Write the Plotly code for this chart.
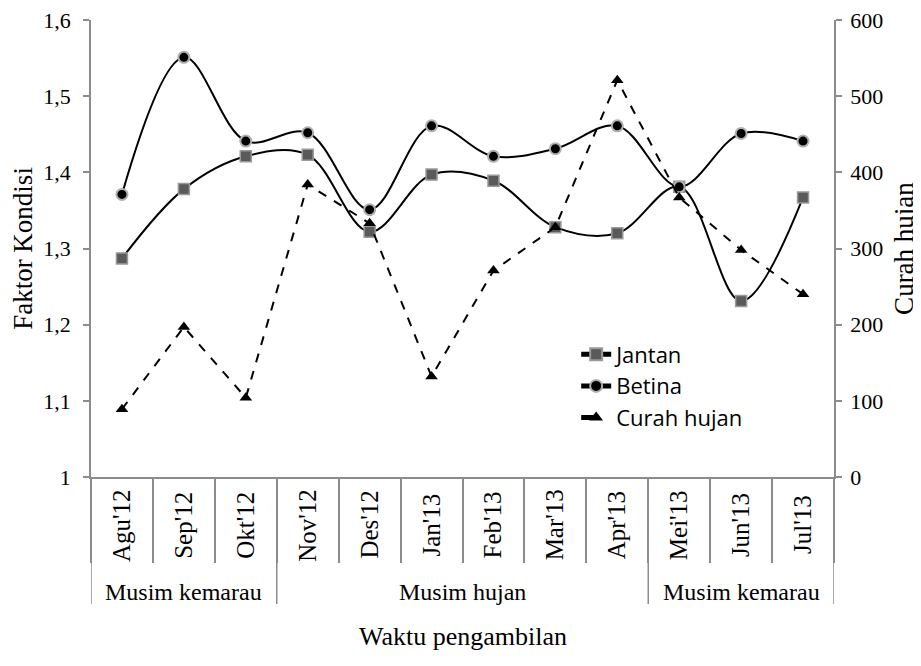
import plotly.graph_objects as go

months = ["Agu'12", "Sep'12", "Okt'12", "Nov'12", "Des'12", "Jan'13",
          "Feb'13", "Mar'13", "Apr'13", "Mei'13", "Jun'13", "Jul'13"]
jantan = [1.287, 1.378, 1.421, 1.423, 1.322, 1.397, 1.389, 1.328, 1.320, 1.381, 1.231, 1.367]
betina = [1.371, 1.551, 1.441, 1.452, 1.351, 1.461, 1.421, 1.431, 1.461, 1.381, 1.451, 1.441]
hujan = [89, 197, 104, 384, 333, 132, 271, 328, 521, 367, 298, 240]
seasons = ["Musim kemarau", "Musim hujan", "Musim kemarau"]
season_spans = [3, 6, 3]

SERIF = "Liberation Serif, Times New Roman, serif"
GRAY = "#8c8c8c"

fig = go.Figure()
fig.add_trace(go.Scatter(
    x=months, y=jantan, name="Jantan", mode="lines+markers",
    line=dict(color="black", width=2, shape="spline", smoothing=1),
    marker=dict(symbol="square", size=11, color="#5a5a5a", line=dict(color="#9a9a9a", width=1.5)),
))
fig.add_trace(go.Scatter(
    x=months, y=betina, name="Betina", mode="lines+markers",
    line=dict(color="black", width=2, shape="spline", smoothing=1),
    marker=dict(symbol="circle", size=11, color="black", line=dict(color="#b0b0b0", width=2)),
))
fig.add_trace(go.Scatter(
    x=months, y=hujan, name="Curah hujan", mode="lines+markers", yaxis="y2",
    line=dict(color="black", width=2, dash="dash"),
    marker=dict(symbol="triangle-up", size=11, color="black"),
))

# x axis category boundaries and labels
shapes = []
annotations = []
start = 0
for name, span in zip(seasons, season_spans):
    shapes.append(dict(type="line", xref="x", yref="paper", x0=start - 0.5, x1=start - 0.5,
                       y0=0, y1=-0.278, line=dict(color=GRAY, width=1.5)))
    annotations.append(dict(xref="x", yref="paper", x=start + (span - 1) / 2, y=-0.252,
                            text=name, showarrow=False, yanchor="middle",
                            font=dict(family=SERIF, size=24, color="black")))
    start += span
shapes.append(dict(type="line", xref="x", yref="paper", x0=start - 0.5, x1=start - 0.5,
                   y0=0, y1=-0.278, line=dict(color=GRAY, width=1.5)))
for m in months:
    annotations.append(dict(xref="x", yref="paper", x=m, y=-0.105, text=m, textangle=-90,
                            showarrow=False, yanchor="middle", xanchor="center",
                            font=dict(family=SERIF, size=25, color="black")))
annotations.append(dict(xref="paper", yref="paper", x=0.5, y=-0.35, text="Waktu pengambilan",
                        showarrow=False, yanchor="middle",
                        font=dict(family=SERIF, size=26, color="black")))

fig.update_layout(
    width=921, height=666,
    margin=dict(l=83, r=95, t=12, b=197, autoexpand=False),
    paper_bgcolor="white", plot_bgcolor="white",
    separators=",.",
    showlegend=True,
    legend=dict(x=0.653, y=0.314, xanchor="left", yanchor="top",
                font=dict(family="Open Sans, Noto Sans, sans-serif", size=22, color="black"),
                bgcolor="rgba(0,0,0,0)", tracegroupgap=0, itemsizing="constant"),
    xaxis=dict(type="category", range=[-0.5, 11.5], showticklabels=False, automargin=False,
               tickson="boundaries", ticks="outside", ticklen=84, tickcolor=GRAY, tickwidth=1.5,
               showline=True, linecolor=GRAY, linewidth=1.5, showgrid=False, zeroline=False),
    yaxis=dict(range=[1, 1.6], dtick=0.1, tickformat=".1~f", ticks="outside", ticklen=6,
               tickcolor=GRAY, tickwidth=1.5, showline=True, linecolor=GRAY, linewidth=1.5,
               showgrid=False, zeroline=False, automargin=False, ticklabeloverflow="allow",
               ticklabelstandoff=8,
               tickfont=dict(family=SERIF, size=22, color="black"),
               title=dict(text="Faktor Kondisi", standoff=3,
                          font=dict(family=SERIF, size=27, color="black"))),
    yaxis2=dict(range=[0, 600], dtick=100, overlaying="y", side="right", ticks="outside",
                ticklen=6, tickcolor=GRAY, tickwidth=1.5, showline=True, linecolor=GRAY,
                linewidth=1.5, showgrid=False, zeroline=False, automargin=False,
                ticklabeloverflow="allow", ticklabelstandoff=4,
                tickfont=dict(family=SERIF, size=22, color="black"),
                title=dict(text="Curah hujan", standoff=12,
                           font=dict(family=SERIF, size=27, color="black"))),
    shapes=shapes,
    annotations=annotations,
)

fig.write_html("out.html")
